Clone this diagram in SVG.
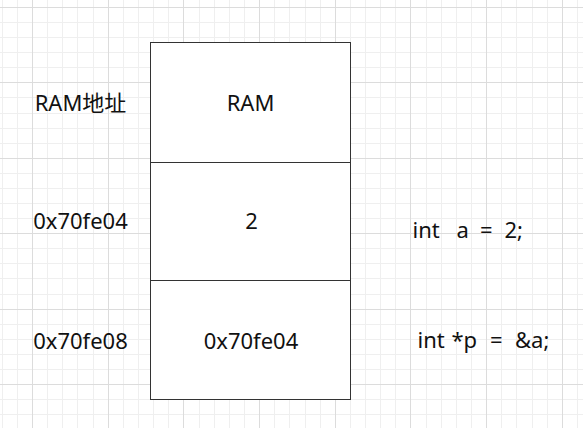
<svg xmlns="http://www.w3.org/2000/svg" width="583" height="428" viewBox="0 0 583 428">
  <style>
    .minor { stroke: #efefef; stroke-width: 1; fill: none; }
    .major { stroke: #dcdcdc; stroke-width: 1; fill: none; }
    .cell { fill: #ffffff; stroke: #333333; stroke-width: 1; }
    .t { font-family: "Noto Sans", "Open Sans", "Noto Sans CJK SC", sans-serif; font-size: 22px; fill: #111111; }
    .c { text-anchor: middle; }
  </style>
  <rect x="0" y="0" width="583" height="428" fill="#ffffff"/>
  <g id="grid">
    <path class="minor" d="M2.5 0V428M17.5 0V428M47.5 0V428M62.5 0V428M77.5 0V428M93.5 0V428M123.5 0V428M138.5 0V428M153.5 0V428M168.5 0V428M199.5 0V428M214.5 0V428M229.5 0V428M244.5 0V428M274.5 0V428M289.5 0V428M305.5 0V428M320.5 0V428M350.5 0V428M365.5 0V428M380.5 0V428M395.5 0V428M426.5 0V428M441.5 0V428M456.5 0V428M471.5 0V428M501.5 0V428M516.5 0V428M532.5 0V428M547.5 0V428M577.5 0V428"/>
    <path class="minor" d="M0 22.5H583M0 37.5H583M0 52.5H583M0 67.5H583M0 97.5H583M0 113.5H583M0 128.5H583M0 143.5H583M0 173.5H583M0 188.5H583M0 203.5H583M0 218.5H583M0 248.5H583M0 263.5H583M0 278.5H583M0 294.5H583M0 324.5H583M0 339.5H583M0 354.5H583M0 369.5H583M0 399.5H583M0 414.5H583"/>
    <path class="major" d="M32.5 0V428M108.5 0V428M183.5 0V428M259.5 0V428M335.5 0V428M410.5 0V428M486.5 0V428M562.5 0V428"/>
    <path class="major" d="M0 7.5H583M0 82.5H583M0 158.5H583M0 233.5H583M0 309.5H583M0 384.5H583"/>
  </g>
  <g id="cell-header">
    <rect class="cell" x="150.5" y="42.5" width="200" height="120"/>
    <text class="t c" x="250.5" y="111">RAM</text>
  </g>
  <g id="cell-a">
    <rect class="cell" x="150.5" y="162.5" width="200" height="118"/>
    <text class="t c" x="251.5" y="229">2</text>
  </g>
  <g id="cell-p">
    <rect class="cell" x="150.5" y="280.5" width="200" height="119"/>
    <text class="t c" x="251" y="349">0x70fe04</text>
  </g>
  <g id="label-header">
    <text class="t c" x="80.5" y="111">RAM地址</text>
  </g>
  <g id="label-addr-a">
    <text class="t c" x="80.5" y="229">0x70fe04</text>
  </g>
  <g id="label-addr-p">
    <text class="t c" x="80.5" y="349">0x70fe08</text>
  </g>
  <g id="code-a">
    <text class="t" y="238"><tspan x="412.5">int</tspan><tspan x="456.5">a</tspan><tspan x="480">=</tspan><tspan x="504.5">2;</tspan></text>
  </g>
  <g id="code-p">
    <text class="t" y="348"><tspan x="417.5">int</tspan><tspan x="451.5">*p</tspan><tspan x="490">=</tspan><tspan x="515">&amp;a;</tspan></text>
  </g>
</svg>
